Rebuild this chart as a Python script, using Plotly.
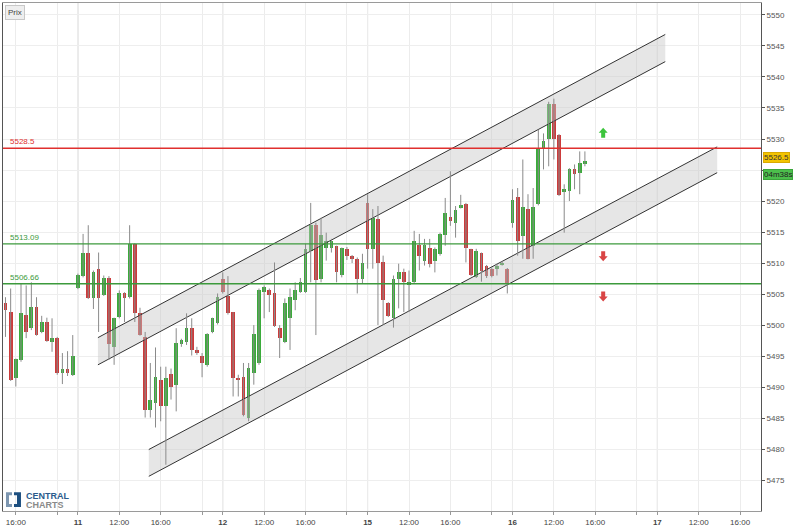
import plotly.graph_objects as go

# ---------------- data ----------------
session_days = ["10", "11", "12", "15", "16"]
session_first = ["15:00", "08:00", "08:00", "08:00", "08:00"]
session_count = [14, 28, 28, 28, 15]
axis_days = ["10", "11", "12", "15", "16", "17"]

price_ticks = [5475, 5480, 5485, 5490, 5495, 5500, 5505, 5510, 5515, 5520, 5525, 5530, 5535, 5540, 5545, 5550]
price_tick_labels = ["5475", "5480", "5485", "5490", "5495", "5500", "5505", "5510", "5515", "5520", "",
                     "5530", "5535", "5540", "5545", "5550"]

opens = [5503.5, 5502.1, 5491.5, 5494.4, 5501.6, 5499.5, 5503.0, 5498.9, 5500.5, 5497.3, 5498.0, 5492.3, 5493.0, 5492.0,
         5506.0, 5507.9, 5511.7, 5504.4, 5509.1, 5504.9, 5507.6, 5496.5, 5501.3, 5505.1, 5504.5, 5513.1, 5502.0, 5498.1,
         5486.4, 5487.5, 5491.1, 5486.9, 5492.1, 5490.4, 5496.9, 5497.3, 5499.6, 5496.0, 5495.1, 5493.5, 5498.9, 5500.3,
         5507.5, 5504.7, 5502.1, 5491.5, 5491.6, 5485.1, 5492.3, 5493.9, 5505.4, 5505.6, 5505.1, 5499.6, 5497.3, 5501.1,
         5504.0, 5505.4, 5505.4, 5512.0, 5516.1, 5507.5, 5512.4, 5512.5, 5512.7, 5508.0, 5512.3, 5511.1, 5510.7, 5507.5,
         5519.7, 5512.3, 5517.1, 5510.1, 5503.6, 5501.1, 5507.5, 5508.5, 5506.5, 5506.9, 5512.9, 5510.4, 5512.5, 5510.4,
         5511.5, 5514.5, 5517.5, 5516.5, 5519.0, 5519.6, 5512.2, 5507.7, 5511.6, 5509.6, 5509.0, 5509.0, 5509.8, 5509.1,
         5516.5, 5520.6, 5514.4, 5518.7, 5512.8, 5519.5, 5528.5, 5530.0, 5535.7, 5530.7, 5521.4, 5521.6, 5525.1, 5524.5,
         5526.0]
highs = [5504.5, 5505.9, 5494.6, 5506.7, 5506.4, 5506.9, 5504.5, 5501.5, 5501.2, 5501.1, 5498.1, 5495.5, 5495.8, 5498.4,
         5508.3, 5514.7, 5516.1, 5508.8, 5511.7, 5508.0, 5507.9, 5501.2, 5505.6, 5505.3, 5516.1, 5513.2, 5502.8, 5498.9,
         5493.9, 5496.4, 5493.3, 5493.3, 5493.0, 5499.5, 5497.8, 5501.9, 5501.1, 5496.5, 5495.5, 5498.7, 5501.2, 5505.1,
         5508.5, 5507.9, 5502.1, 5492.0, 5493.9, 5493.9, 5500.0, 5505.9, 5506.4, 5505.9, 5510.1, 5500.0, 5504.3, 5505.9,
         5506.9, 5507.6, 5513.1, 5519.7, 5516.5, 5517.3, 5514.9, 5513.9, 5512.8, 5512.5, 5512.6, 5511.3, 5510.9, 5511.5,
         5521.1, 5518.7, 5519.2, 5511.2, 5503.7, 5508.0, 5509.9, 5509.1, 5508.8, 5515.2, 5514.7, 5513.9, 5513.9, 5512.5,
         5514.9, 5520.5, 5524.8, 5519.2, 5521.0, 5519.7, 5512.3, 5512.3, 5511.7, 5509.7, 5509.3, 5509.9, 5510.3, 5509.2,
         5521.9, 5522.1, 5526.7, 5521.1, 5522.1, 5531.5, 5530.9, 5536.0, 5536.5, 5530.8, 5522.7, 5525.3, 5525.9, 5528.0,
         5528.0]
lows = [5498.1, 5491.0, 5490.1, 5494.1, 5497.9, 5499.2, 5498.3, 5498.7, 5497.3, 5495.7, 5492.0, 5490.5, 5491.8, 5491.8,
        5505.8, 5507.7, 5504.2, 5502.6, 5498.9, 5504.7, 5494.4, 5493.6, 5501.1, 5500.5, 5504.3, 5500.5, 5498.3, 5485.1,
        5485.1, 5483.5, 5484.5, 5477.5, 5488.0, 5486.1, 5496.5, 5496.8, 5495.1, 5495.2, 5491.6, 5493.3, 5498.7, 5500.1,
        5505.1, 5501.7, 5488.5, 5488.5, 5485.3, 5484.5, 5490.4, 5493.6, 5501.1, 5502.1, 5499.7, 5494.7, 5497.1, 5496.0,
        5502.4, 5505.2, 5505.2, 5506.9, 5498.4, 5506.9, 5510.4, 5511.7, 5506.9, 5507.7, 5510.5, 5510.0, 5505.1, 5506.7,
        5509.1, 5509.1, 5500.0, 5500.0, 5501.3, 5499.6, 5502.7, 5502.1, 5502.1, 5506.8, 5508.8, 5509.6, 5509.3, 5508.5,
        5511.2, 5512.8, 5516.0, 5514.1, 5518.8, 5510.1, 5507.9, 5507.6, 5507.0, 5507.6, 5507.7, 5508.0, 5509.6, 5505.1,
        5515.7, 5511.2, 5510.7, 5510.6, 5510.7, 5519.3, 5525.1, 5525.6, 5526.7, 5520.8, 5514.9, 5520.0, 5521.9, 5521.1,
        5525.6]
closes = [5502.4, 5491.2, 5494.5, 5502.0, 5498.9, 5503.0, 5498.4, 5500.5, 5497.4, 5498.0, 5492.3, 5493.0, 5492.3, 5495.1,
          5508.1, 5511.7, 5504.4, 5508.6, 5504.3, 5507.6, 5496.9, 5501.1, 5505.1, 5504.4, 5513.1, 5502.0, 5498.4, 5486.4,
          5488.0, 5491.6, 5486.9, 5491.5, 5490.0, 5497.1, 5497.6, 5499.6, 5496.0, 5495.5, 5493.9, 5498.5, 5501.1, 5504.5,
          5505.4, 5502.0, 5491.5, 5491.2, 5485.5, 5493.1, 5498.5, 5505.6, 5506.1, 5504.9, 5499.9, 5497.9, 5503.5, 5504.5,
          5505.6, 5507.0, 5512.3, 5516.1, 5507.2, 5514.5, 5513.6, 5513.6, 5508.5, 5512.5, 5511.1, 5510.6, 5507.5, 5510.0,
          5512.3, 5517.2, 5510.0, 5504.0, 5501.5, 5507.5, 5508.5, 5506.9, 5507.0, 5513.6, 5511.1, 5512.9, 5509.9, 5512.3,
          5514.7, 5518.0, 5516.8, 5518.6, 5519.3, 5512.4, 5508.0, 5512.0, 5508.8, 5507.9, 5507.9, 5509.6, 5510.0, 5506.7,
          5520.1, 5513.6, 5519.1, 5510.7, 5519.1, 5528.5, 5529.6, 5535.7, 5530.0, 5520.9, 5522.0, 5525.2, 5524.4, 5526.1,
          5526.5]

level_values = [5528.5, 5513.09, 5506.66]
level_labels = ["5528.5", "5513.09", "5506.66"]
level_colors = ["#e0302e", "#3c9a3c", "#3c9a3c"]

# trend channels: [start, end] as (day, time) and channel edge values
channel_start = [("11", "09:56"), ("11", "14:51")]
channel_end = [("17", "08:46"), ("17", "13:47")]
channel_top = [[5497.98, 5546.85], [5479.95, 5528.73]]
channel_bottom = [[5493.60, 5542.47], [5475.63, 5524.57]]

arrow_pos = [("16", "16:46", 5531.0, "up"), ("16", "16:46", 5511.1, "down"), ("16", "16:46", 5504.6, "down")]

last_price = "5526.5"
last_price_value = 5526.5
countdown = "04m38s"
countdown_value = 5524.7

# ---------------- helpers ----------------
HOURS_PER_DAY = 14  # session 08:00 - 22:00
day_pos = {d: i for i, d in enumerate(axis_days)}


def tpos(day, hhmm):
    h, m = hhmm.split(":")
    return day_pos[day] * HOURS_PER_DAY + (int(h) - 8) + int(m) / 60.0


xs = []
for d, first, n in zip(session_days, session_first, session_count):
    t0 = tpos(d, first)
    for k in range(n):
        xs.append(t0 + 0.5 * k)

GREEN = "#3aab3a"
RED = "#cc3b3b"

fig = go.Figure()

# channels
for s, e, top, bot in zip(channel_start, channel_end, channel_top, channel_bottom):
    x0, x1 = tpos(*s), tpos(*e)
    fig.add_trace(go.Scatter(x=[x0, x1, x1, x0, x0], y=[top[0], top[1], bot[1], bot[0], top[0]],
                             fill="toself", fillcolor="rgba(200,200,200,0.45)", line=dict(width=0),
                             mode="lines", hoverinfo="skip"))
    fig.add_trace(go.Scatter(x=[x0, x1], y=top, mode="lines", line=dict(color="#333", width=1), hoverinfo="skip"))
    fig.add_trace(go.Scatter(x=[x0, x1], y=bot, mode="lines", line=dict(color="#333", width=1), hoverinfo="skip"))

# wicks
wx, wy = [], []
for x, h, l in zip(xs, highs, lows):
    wx += [x, x, None]
    wy += [l, h, None]
fig.add_trace(go.Scatter(x=wx, y=wy, mode="lines", line=dict(color="#8a8a8a", width=1), hoverinfo="skip"))

# bodies
bases, heights, colors = [], [], []
for o, c in zip(opens, closes):
    lo, hi = min(o, c), max(o, c)
    bases.append(lo)
    heights.append(max(hi - lo, 0.18))
    colors.append(GREEN if c >= o else RED)
fig.add_trace(go.Bar(x=xs, y=heights, base=bases, width=0.36, marker=dict(color=colors, line=dict(width=0)),
                     hoverinfo="skip"))

shapes = []
# darker day grid lines
for d in axis_days[1:]:
    shapes.append(dict(type="line", xref="x", yref="paper", x0=tpos(d, "08:00"), x1=tpos(d, "08:00"), y0=0, y1=1,
                       line=dict(color="#cfcfcf", width=1), layer="below"))
# horizontal levels
for v, c in zip(level_values, level_colors):
    shapes.append(dict(type="line", xref="paper", yref="y", x0=0, x1=1, y0=v, y1=v, line=dict(color=c, width=1.4)))

# arrows (pixel-sized paths anchored at data points)
for d, hm, v, direction in arrow_pos:
    if direction == "up":
        path = "M-2,-5 L2,-5 L2,0 L4.5,0 L0,5 L-4.5,0 L-2,0 Z"
        col = "#3cc43c"
    else:
        path = "M-2,5 L2,5 L2,0 L4.5,0 L0,-5 L-4.5,0 L-2,0 Z"
        col = "#d94545"
    shapes.append(dict(type="path", xref="x", yref="y", xsizemode="pixel", ysizemode="pixel",
                       xanchor=tpos(d, hm), yanchor=v, path=path, fillcolor=col, line=dict(width=0)))

# logo icon (paper coords)
PW, PH = 759.0, 512.0


def px(xp):
    return (xp - 2) / PW


def py(yp):
    return (514 - yp) / PH


shapes.append(dict(type="path", xref="paper", yref="paper",
                   path=f"M{px(5)},{py(495)} L{px(11)},{py(495)} L{px(11)},{py(498)} L{px(8)},{py(498)} "
                        f"L{px(8)},{py(507)} L{px(11)},{py(507)} L{px(11)},{py(510)} L{px(5)},{py(510)} Z",
                   fillcolor="#7d96b0", line=dict(width=0)))
shapes.append(dict(type="path", xref="paper", yref="paper",
                   path=f"M{px(13)},{py(495)} L{px(20)},{py(495)} L{px(20)},{py(510)} L{px(13)},{py(510)} "
                        f"L{px(13)},{py(507)} L{px(16)},{py(507)} L{px(16)},{py(498)} L{px(13)},{py(498)} Z",
                   fillcolor="#1d4f80", line=dict(width=0)))

annotations = []
for v, t, c in zip(level_values, level_labels, level_colors):
    annotations.append(dict(xref="paper", yref="y", x=0.006, y=v, text=t, showarrow=False, xanchor="left",
                            yanchor="bottom", yshift=0, font=dict(size=8, color=c, family="Liberation Sans")))
annotations.append(dict(xref="paper", yref="y", x=1, y=last_price_value, text=last_price, showarrow=False,
                        xanchor="left", xshift=2, yshift=3, bgcolor="#f3c300", bordercolor="#d9a900", borderwidth=1,
                        borderpad=0, font=dict(size=8, color="#333", family="Liberation Sans")))
annotations.append(dict(xref="paper", yref="y", x=1, y=countdown_value, text=countdown, showarrow=False,
                        xanchor="left", xshift=2, yshift=-3, bgcolor="#4cbf4c", bordercolor="#3aa53a", borderwidth=1,
                        borderpad=0, font=dict(size=8, color="#222", family="Liberation Sans")))
annotations.append(dict(xref="paper", yref="paper", x=px(4), y=py(4), text="Prix", showarrow=False,
                        xanchor="left", yanchor="top", bgcolor="#eeeeee", bordercolor="#c8c8c8", borderwidth=1,
                        borderpad=2, font=dict(size=8, color="#444", family="Liberation Sans")))
annotations.append(dict(xref="paper", yref="paper", x=px(23), y=py(499), text="<b>CENTRAL</b>", showarrow=False,
                        xanchor="left", yanchor="middle", font=dict(size=9, color="#2b5b8c", family="Liberation Sans")))
annotations.append(dict(xref="paper", yref="paper", x=px(23), y=py(507.5), text="<b>CHARTS</b>", showarrow=False,
                        xanchor="left", yanchor="middle", font=dict(size=9, color="#8a8a8a", family="Liberation Sans")))

# x ticks
tickvals, ticktext = [], []
for d in axis_days:
    for hm, lab in [("08:00", f"<b>{d}</b>"), ("12:00", "12:00"), ("16:00", "16:00"), ("20:00", "")]:
        tickvals.append(tpos(d, hm))
        ticktext.append(lab)

fig.update_layout(
    width=806, height=529, margin=dict(l=2, r=45, t=2, b=15),
    plot_bgcolor="white", paper_bgcolor="white", showlegend=False,
    shapes=shapes, annotations=annotations, bargap=0,
    font=dict(family="Liberation Sans", size=8, color="#444"),
    xaxis=dict(range=[6.76, 80.02], tickmode="array", tickvals=tickvals, ticktext=ticktext,
               showgrid=True, gridcolor="#ececec", gridwidth=1, zeroline=False,
               showline=True, linecolor="#9a9a9a", mirror=True, ticks="outside", ticklen=3, tickcolor="#999",
               tickfont=dict(size=8, color="#444")),
    yaxis=dict(range=[5470.04, 5551.92], side="right", tickmode="array", tickvals=price_ticks,
               ticktext=price_tick_labels, showgrid=True,
               gridcolor="#eeeeee", zeroline=False, showline=True, linecolor="#555", mirror=True,
               ticks="outside", ticklen=3, tickcolor="#555", tickfont=dict(size=8, color="#555")),
)

fig.write_html("out.html")
